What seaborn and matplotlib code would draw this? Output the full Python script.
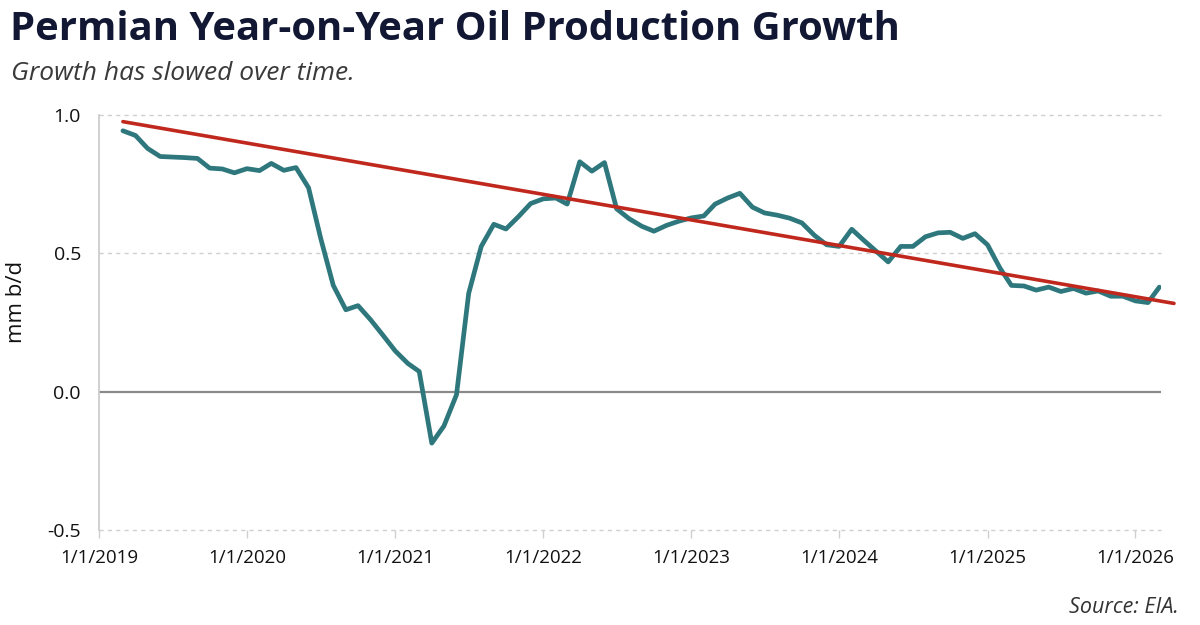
import matplotlib.pyplot as plt
import pandas as pd
import seaborn as sns

# Permian oil production, year-on-year growth (mm b/d), monthly from Mar 2019
start_month = "2019-03-01"
growth = [
    0.943, 0.926, 0.879, 0.850, 0.848, 0.846, 0.843, 0.808, 0.805, 0.791,
    0.806, 0.799, 0.825, 0.800, 0.810, 0.737, 0.554, 0.384, 0.296, 0.311,
    0.260, 0.205, 0.147, 0.102, 0.073, -0.186, -0.124, -0.011, 0.355, 0.525,
    0.605, 0.588, 0.633, 0.680, 0.697, 0.700, 0.678, 0.831, 0.797, 0.828,
    0.661, 0.625, 0.598, 0.580, 0.601, 0.616, 0.628, 0.635, 0.678, 0.700,
    0.717, 0.667, 0.646, 0.638, 0.627, 0.610, 0.565, 0.531, 0.525, 0.587,
    0.548, 0.508, 0.469, 0.525, 0.525, 0.560, 0.574, 0.576, 0.554, 0.571,
    0.531, 0.446, 0.384, 0.382, 0.367, 0.378, 0.362, 0.373, 0.356, 0.364,
    0.345, 0.345, 0.328, 0.322, 0.378,
]

# trend line end points
trend_dates = ["2019-03-01", "2026-04-06"]
trend_values = [0.976, 0.319]

tick_years = [2019, 2020, 2021, 2022, 2023, 2024, 2025, 2026]
y_ticks = [-0.5, 0.0, 0.5, 1.0]

df = pd.DataFrame({
    "date": pd.date_range(start_month, periods=len(growth), freq="MS"),
    "growth": growth,
})
trend = pd.DataFrame({"date": pd.to_datetime(trend_dates), "value": trend_values})

sns.set_theme(style="white")
plt.rcParams["font.family"] = ["Open Sans", "DejaVu Sans"]

fig, ax = plt.subplots(figsize=(12, 6.25), dpi=100)
fig.subplots_adjust(left=0.0825, right=0.9675, top=0.816, bottom=0.152)

# grid: dashed light lines, solid zero line
for y in [1.0, 0.5, -0.5]:
    ax.axhline(y, color="#cfcfcf", lw=1, ls=(0, (3, 3)), clip_on=False, zorder=1)
ax.axhline(0, color="#8a8a8a", lw=1.6, zorder=1)

sns.lineplot(data=df, x="date", y="growth", color="#2e787d", lw=3.4, ax=ax, zorder=3)
sns.lineplot(data=trend, x="date", y="value", color="#c0281e", lw=2.6, ax=ax,
             clip_on=False, zorder=4)

ax.set_xlim(pd.Timestamp("2019-01-01"), pd.Timestamp("2026-03-05"))
ax.set_ylim(-0.5, 1.0)

ax.set_xticks([pd.Timestamp(f"{y}-01-01") for y in tick_years])
ax.set_xticklabels([f"1/1/{y}" for y in tick_years])
ax.set_yticks(y_ticks)
ax.set_yticklabels([f"{v:.1f}" for v in y_ticks])

ax.tick_params(axis="x", length=6, width=1, color="#cfcfcf", pad=8,
               labelsize=13.5, labelcolor="#111111", bottom=True)
ax.tick_params(axis="y", length=0, pad=13, labelsize=14, labelcolor="#111111")

ax.set_xlabel("")
ax.set_ylabel("mm b/d", fontsize=16, color="#111111")
ax.yaxis.set_label_coords(-0.068, 0.55)

for side in ["top", "right", "bottom"]:
    ax.spines[side].set_visible(False)
ax.spines["left"].set_color("#c8c8c8")
ax.spines["left"].set_linewidth(1.2)

fig.text(0.008, 0.936, "Permian Year-on-Year Oil Production Growth",
         fontsize=28.8, fontweight="bold", color="#121833", va="baseline")
fig.text(0.009, 0.872, "Growth has slowed over time.", fontsize=19,
         style="italic", color="#3a3a3a", va="baseline")
fig.text(0.982, 0.019, "Source: EIA.", fontsize=15.5, style="italic",
         color="#333333", ha="right", va="baseline")

fig.savefig("out.png", dpi=100, facecolor="white")
